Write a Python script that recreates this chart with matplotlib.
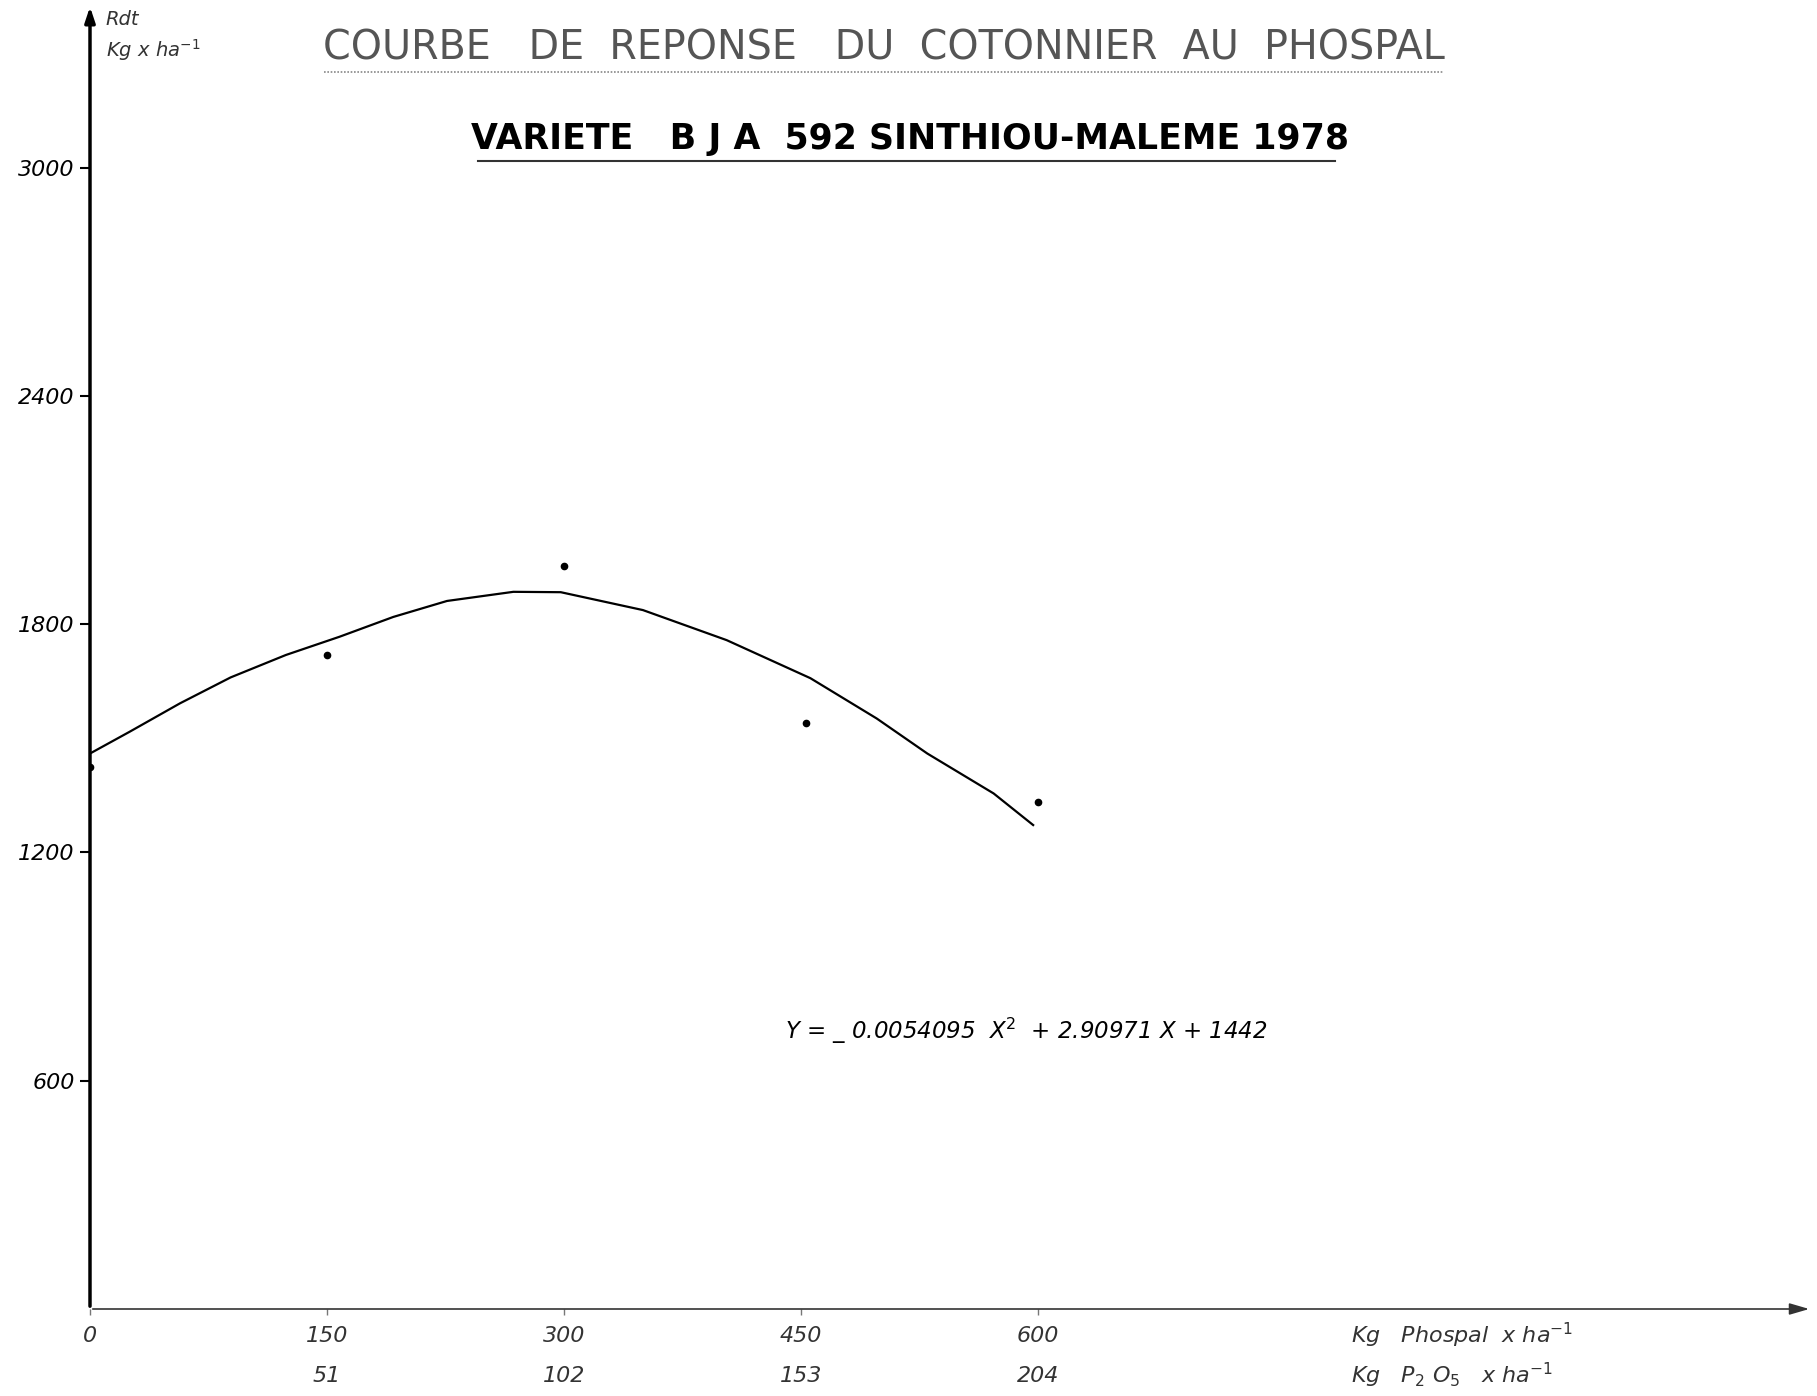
import numpy as np
import matplotlib.pyplot as plt

# observed yields (Kg/ha) vs Phospal dose (Kg/ha)
dose = [0, 150, 300, 453, 600]
yield_obs = [1425, 1720, 1953, 1541, 1333]

# fitted response curve
curve_x = [0, 25, 57, 89, 124, 158, 192, 226, 268, 298, 350, 403, 456, 498, 530, 572, 597]
curve_y = [1460, 1517, 1592, 1660, 1719, 1767, 1819, 1861, 1885, 1884, 1837, 1758, 1658, 1552, 1460, 1355, 1272]

xticks = [0, 150, 300, 450, 600]
xtick_p2o5 = ["", "51", "102", "153", "204"]
yticks = [600, 1200, 1800, 2400, 3000]

plt.rcParams['font.family'] = ['DejaVu Sans']

fig = plt.figure(figsize=(18.17, 13.96), dpi=100)
ax = fig.add_axes([90 / 1817, 87 / 1396, 1722 / 1817, 1305 / 1396])
ax.set_xlim(0, 1090)
ax.set_ylim(0, 3430)

for s in ax.spines.values():
    s.set_visible(False)

# axes drawn as arrows
ax.annotate("", xy=(1090, 0), xytext=(0, 0),
            arrowprops=dict(arrowstyle="-|>,head_length=1.2,head_width=0.35", color="#333333", lw=1.2),
            annotation_clip=False)
ax.annotate("", xy=(0, 3430), xytext=(0, 0),
            arrowprops=dict(arrowstyle="-|>,head_length=0.9,head_width=0.3", color="black", lw=2.5),
            annotation_clip=False)

ax.plot(curve_x, curve_y, color="black", lw=1.6)
ax.plot(dose, yield_obs, "o", color="black", ms=4.5)

ax.set_yticks(yticks)
ax.set_yticklabels([str(v) for v in yticks], fontsize=16, style="italic")
ax.tick_params(axis="y", direction="out", length=7, width=1.5, pad=4)
ax.set_xticks(xticks)
ax.set_xticklabels([str(v) for v in xticks], fontsize=16, style="italic", color="#333333")
ax.tick_params(axis="x", direction="out", length=4, width=1, pad=8, color="#777777")

for xv, lab in zip(xticks, xtick_p2o5):
    ax.text(xv, -175, lab, ha="center", va="center", fontsize=16, style="italic", color="#333333")

ax.text(798, -70, "Kg   Phospal  x ha$^{-1}$", ha="left", va="center",
        fontsize=16, style="italic", color="#333333")
ax.text(798, -175, "Kg   P$_2$ O$_5$   x ha$^{-1}$", ha="left", va="center",
        fontsize=16, style="italic", color="#333333")

ax.text(10, 3390, "Rdt", ha="left", va="center", fontsize=14, style="italic", color="#333333")
ax.text(10, 3310, "Kg x ha$^{-1}$", ha="left", va="center", fontsize=14, style="italic", color="#333333")

ax.text(440, 730, "Y = _ 0.0054095  X$^{2}$  + 2.90971 X + 1442", ha="left", va="center",
        fontsize=16.5, style="italic")

fig.text(884 / 1817, 1 - 49 / 1396, "COURBE   DE  REPONSE   DU  COTONNIER  AU  PHOSPAL",
         ha="center", va="center", fontsize=28.5, color="#555555")
fig.add_artist(plt.Line2D([324 / 1817, 1443 / 1817], [1 - 72 / 1396] * 2, color="#888888", lw=1.2, ls=(0, (1, 1))))
fig.text(910 / 1817, 1 - 139 / 1396, "VARIETE   B J A  592 SINTHIOU-MALEME 1978",
         ha="center", va="center", fontsize=25, fontweight="bold")
fig.add_artist(plt.Line2D([478 / 1817, 1335 / 1817], [1 - 161 / 1396] * 2, color="#333333", lw=1.5))

fig.savefig("out.png", dpi=100)
